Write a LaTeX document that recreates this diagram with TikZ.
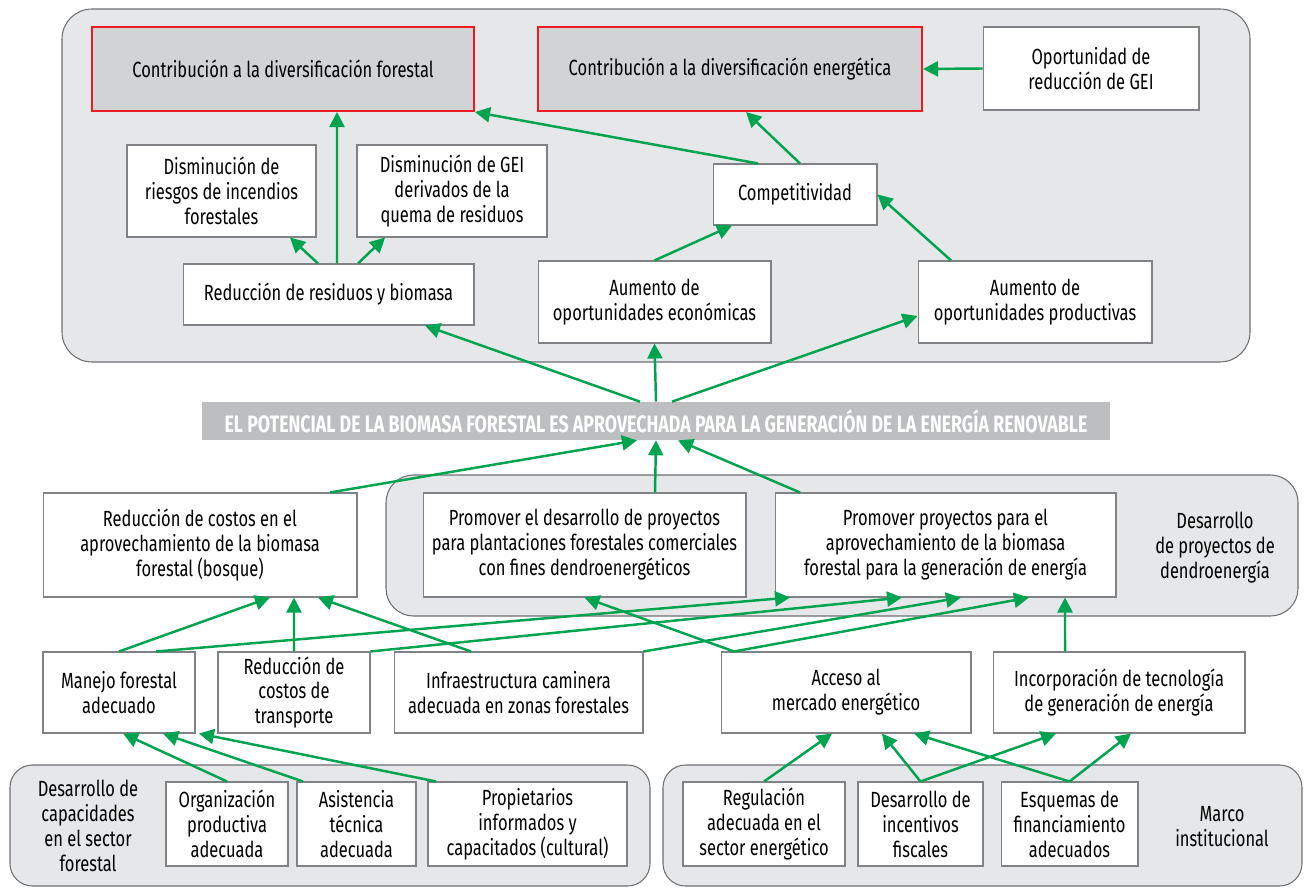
\documentclass[tikz,border=0pt]{standalone}
\usepackage{fontspec}
\setmainfont{Fira Sans}[FakeStretch=0.75]
\newfontfamily\bannerfont{Fira Sans}[FakeStretch=0.75]
\usetikzlibrary{arrows.meta}
\definecolor{arrowgreen}{RGB}{0,163,80}
\definecolor{groupfill}{RGB}{230,231,232}
\definecolor{groupline}{RGB}{110,111,114}
\definecolor{boxline}{RGB}{128,130,133}
\definecolor{goalfill}{RGB}{209,211,212}
\definecolor{goalline}{RGB}{237,28,36}
\definecolor{bannerfill}{RGB}{188,190,192}
\newcommand{\txtsize}{\fontsize{12.5}{14.2}\selectfont}
\begin{document}
\begin{tikzpicture}[x=0.02cm,y=-0.02cm,
  group/.style={draw=groupline,fill=groupfill,line width=0.6pt},
  box/.style={draw=boxline,fill=white,line width=0.6pt,align=center,inner sep=0pt,font=\txtsize},
  goal/.style={box,draw=goalline,fill=goalfill,line width=1.2pt},
  label text/.style={align=center,font=\txtsize},
  arrow/.style={draw=arrowgreen,line width=1.4pt,-{Triangle[length=0.3cm,width=0.3cm]}}]
 \useasboundingbox (0,0) rectangle (1304,888);
 % grupos
 \draw[group,rounded corners=0.6cm] (62,9) rectangle (1250,362);
 \draw[group,rounded corners=0.55cm] (386,475) rectangle (1298,616);
 \draw[group,rounded corners=0.45cm] (10,765) rectangle (650,886);
 \draw[group,rounded corners=0.45cm] (663,765) rectangle (1302,886);
 % nivel superior
 \node (contrib forestal) at (283,69) [goal,minimum width=7.64cm,minimum height=1.68cm] {Contribución a la diversificación forestal};
 \node (contrib energia) at (730,69) [goal,minimum width=7.68cm,minimum height=1.68cm] {Contribución a la diversificación energética};
 \node (oport gei) at (1091,68.5) [box,minimum width=4.32cm,minimum height=1.66cm] {Oportunidad de\\reducción de GEI};
 \node (dism riesgos) at (221.5,191) [box,minimum width=3.78cm,minimum height=1.84cm] {Disminución de\\riesgos de incendios\\forestales};
 \node (dism gei) at (452,191) [box,minimum width=3.80cm,minimum height=1.84cm] {Disminución de GEI\\derivados de la\\quema de residuos};
 \node (competit) at (795,194.5) [box,minimum width=3.28cm,minimum height=1.22cm] {Competitividad};
 \node (red residuos) at (328.5,294.5) [box,minimum width=5.82cm,minimum height=1.22cm] {Reducción de residuos y biomasa};
 \node (aum econ) at (654.5,302) [box,minimum width=4.66cm,minimum height=1.64cm] {Aumento de\\oportunidades económicas};
 \node (aum prod) at (1035,302) [box,minimum width=4.68cm,minimum height=1.64cm] {Aumento de\\oportunidades productivas};
 % objetivo central
 \node (potencial) at (656,421) [fill=bannerfill,text=white,inner sep=0pt,minimum width=18.16cm,minimum height=0.76cm,font=\bannerfont\bfseries\fontsize{13.5}{15}\selectfont] {EL POTENCIAL DE LA BIOMASA FORESTAL ES APROVECHADA PARA LA GENERACIÓN DE LA ENERGÍA RENOVABLE};
 % nivel medio
 \node (red costos) at (200,545) [box,minimum width=6.28cm,minimum height=2.08cm] {Reducción de costos en el\\aprovechamiento de la biomasa\\forestal (bosque)};
 \node (prom plant) at (584.5,545) [box,minimum width=6.46cm,minimum height=2.08cm] {Promover el desarrollo de proyectos\\para plantaciones forestales comerciales\\con fines dendroenergéticos};
 \node (prom proy) at (945.5,545) [box,minimum width=6.82cm,minimum height=2.08cm] {Promover proyectos para el\\aprovechamiento de la biomasa\\forestal para la generación de energía};
 \node (lbl dendro) at (1215,548) [label text] {Desarrollo\\de proyectos de\\dendroenergía};
 \node (manejo) at (119,692.5) [box,minimum width=3.04cm,minimum height=1.62cm] {Manejo forestal\\adecuado};
 \node (red transp) at (294,692.5) [box,minimum width=3.04cm,minimum height=1.62cm] {Reducción de\\costos de\\transporte};
 \node (infraestr) at (518.5,692.5) [box,minimum width=4.98cm,minimum height=1.62cm] {Infraestructura caminera\\adecuada en zonas forestales};
 \node (acceso) at (846,692.5) [box,minimum width=5.00cm,minimum height=1.62cm] {Acceso al\\mercado energético};
 \node (incorp) at (1119,692.5) [box,minimum width=5.04cm,minimum height=1.62cm] {Incorporación de tecnología\\de generación de energía};
 % nivel inferior
 \node (lbl capac) at (88,826) [label text] {Desarrollo de\\capacidades\\en el sector\\forestal};
 \node (organiz) at (227,824) [box,minimum width=2.44cm,minimum height=1.68cm] {Organización\\productiva\\adecuada};
 \node (asist) at (356.5,824) [box,minimum width=2.38cm,minimum height=1.68cm] {Asistencia\\técnica\\adecuada};
 \node (propiet) at (527.5,824) [box,minimum width=3.98cm,minimum height=1.68cm] {Propietarios\\informados y\\capacitados (cultural)};
 \node (regul) at (764,824) [box,minimum width=3.24cm,minimum height=1.68cm] {Regulación\\adecuada en el\\sector energético};
 \node (incent) at (920.5,824) [box,minimum width=2.50cm,minimum height=1.68cm] {Desarrollo de\\incentivos\\fiscales};
 \node (esquemas) at (1069.5,824) [box,minimum width=2.74cm,minimum height=1.68cm] {Esquemas de\\financiamiento\\adecuados};
 \node (lbl marco) at (1222,827) [label text] {Marco\\institucional};
 % flechas superiores
 \draw[arrow] ([xshift=-0.21cm]red residuos.north) -- ([xshift=1.37cm]dism riesgos.south);
 \draw[arrow] ([xshift=0.17cm]red residuos.north) -- ([xshift=1.08cm]contrib forestal.south);
 \draw[arrow] ([xshift=0.59cm]red residuos.north) -- ([xshift=-1.34cm]dism gei.south);
 \draw[arrow] ([xshift=-0.74cm]competit.north) -- (contrib forestal.south east);
 \draw[arrow] ([xshift=0.1cm]competit.north) -- ([xshift=0.32cm]contrib energia.south);
 \draw[arrow] (oport gei.west) -- (contrib energia.east);
 \draw[arrow] (aum econ.north) -- ([xshift=-1.26cm]competit.south);
 \draw[arrow] ([xshift=-1.68cm]aum prod.north) -- (competit.east);
 \draw[arrow] ([xshift=-0.32cm]potencial.north) -- ([xshift=1.93cm]red residuos.south);
 \draw[arrow] (potencial.north) -- (aum econ.south);
 \draw[arrow] ([xshift=0.32cm]potencial.north) -- ([yshift=-0.28cm]aum prod.west);
 % flechas hacia el objetivo
 \draw[arrow] ([xshift=2.6cm]red costos.north) -- ([xshift=-0.38cm]potencial.south);
 \draw[arrow] ([xshift=1.41cm]prom plant.north) -- (potencial.south);
 \draw[arrow] ([xshift=-2.91cm]prom proy.north) -- ([xshift=0.44cm]potencial.south);
 % flechas medias
 \draw[arrow] (manejo.north) -- ([xshift=1.4cm]red costos.south);
 \draw[arrow] (red transp.north) -- ([xshift=1.88cm]red costos.south);
 \draw[arrow] ([xshift=-0.95cm]infraestr.north) -- ([xshift=2.36cm]red costos.south);
 \draw[arrow] ([xshift=0.74cm]manejo.north) -- ([xshift=-3.11cm]prom proy.south);
 \draw[arrow] (red transp.north east) -- ([xshift=-0.87cm]prom proy.south);
 \draw[arrow] (infraestr.north east) -- ([xshift=0.31cm]prom proy.south);
 \draw[arrow] ([xshift=-2.24cm]acceso.north) -- ([xshift=1.67cm]prom proy.south);
 \draw[arrow] ([xshift=-2.24cm]acceso.north) -- (prom plant.south);
 \draw[arrow] ([xshift=-1.08cm]incorp.north) -- ([xshift=2.39cm]prom proy.south);
 % flechas inferiores
 \draw[arrow] (organiz.north) -- ([xshift=0.08cm]manejo.south);
 \draw[arrow] ([xshift=-1.07cm]asist.north) -- ([xshift=0.88cm]manejo.south);
 \draw[arrow] ([xshift=-1.83cm]propiet.north) -- ([xshift=1.6cm]manejo.south);
 \draw[arrow] (regul.north) -- ([xshift=-0.28cm]acceso.south);
 \draw[arrow] (incent.north) -- ([xshift=0.72cm]acceso.south);
 \draw[arrow] (incent.north) -- ([xshift=-1.26cm]incorp.south);
 \draw[arrow] (esquemas.north) -- ([xshift=1.36cm]acceso.south);
 \draw[arrow] (esquemas.north) -- ([xshift=0.24cm]incorp.south);
\end{tikzpicture}
\end{document}
